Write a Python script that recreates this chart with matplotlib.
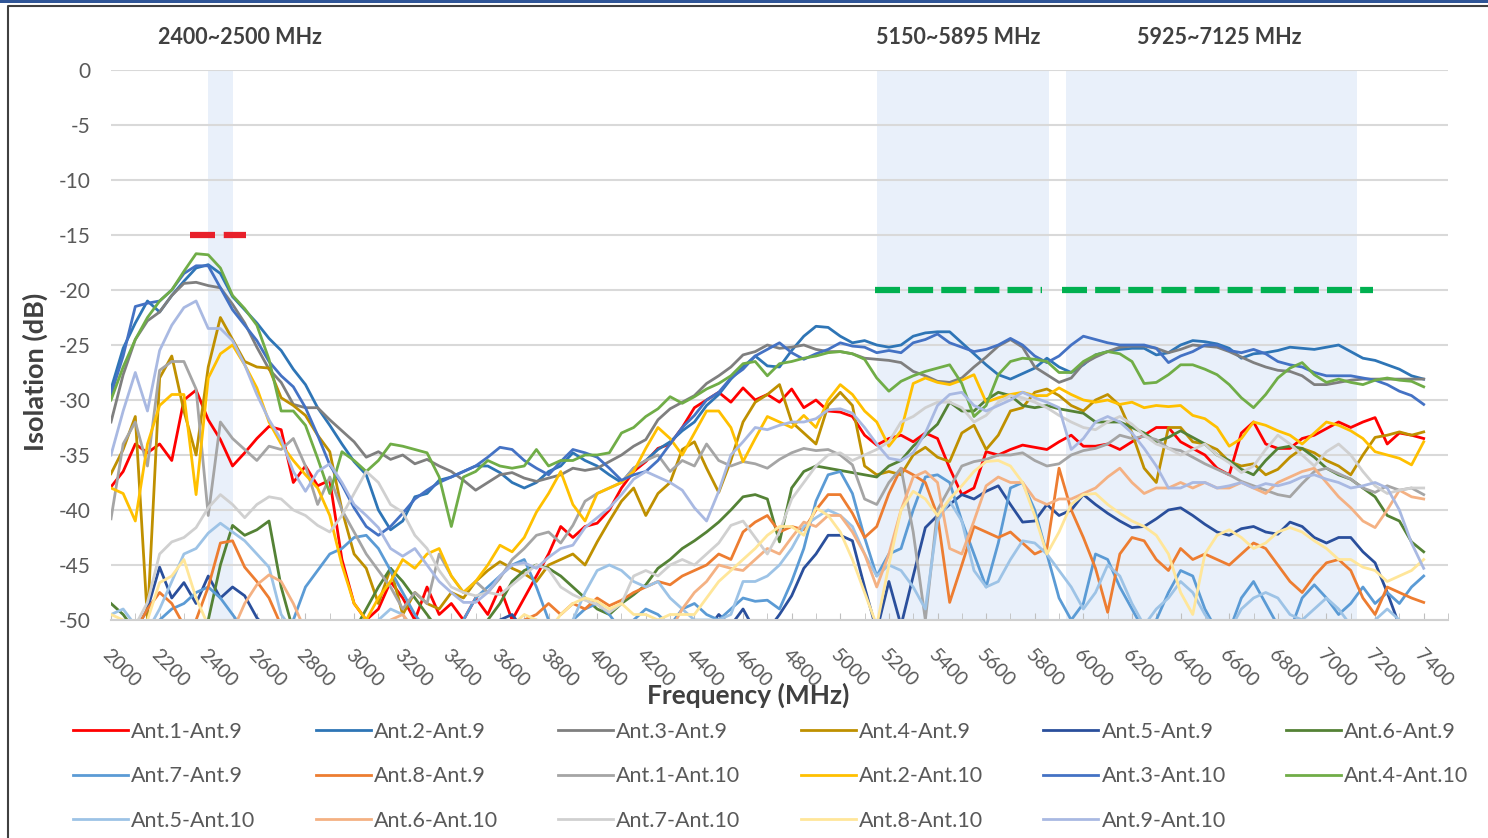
import numpy as np
import matplotlib.pyplot as plt
from matplotlib.lines import Line2D
from matplotlib.patches import Rectangle

plt.rcParams['font.family'] = ['Lato', 'DejaVu Sans']
plt.rcParams['axes.unicode_minus'] = False

# frequency grid (MHz), 50 MHz steps
freq = np.arange(2000, 7401, 50)

# isolation values (dB)
ant1_9 = [-37.9, -36.5, -34, -34.8, -34, -35.5, -30, -29.1, -31.8, -33.6,
          -36, -34.8, -33.5, -32.4, -32.7, -37.5, -36, -37.8, -37.3, -44.5,
          -48.5, -50, -49, -46.5, -48, -50, -47, -49.5, -48.5, -50,
          -48, -49.5, -47, -50, -48, -46, -44, -41.5, -42.5, -41.5,
          -41.2, -40, -38, -36.5, -35.6, -34.4, -34, -32.5, -30.7, -30,
          -29.3, -30.2, -28.9, -30, -29.5, -30.2, -29, -30.7, -30, -31,
          -31.1, -31.5, -33.2, -34.1, -33.5, -33.2, -33.8, -33, -33.5, -36.2,
          -38.6, -38, -34.7, -35, -34.5, -34.1, -34.3, -34.5, -33.8, -33.2,
          -34.2, -34.2, -34, -34.5, -33.8, -33.2, -32.5, -32.5, -33.8, -34.4,
          -35, -36.2, -36.8, -33, -32, -34, -34.4, -34.4, -33.5, -33.2,
          -32.6, -32, -32.5, -32, -31.6, -34, -33, -33.2, -33.5]
ant2_9 = [-29, -25.3, -23, -21, -22, -20.5, -19.2, -18, -17.7, -18.5,
          -20.6, -21.8, -23, -24.4, -25.5, -27.2, -28.6, -30.7, -32.3, -34,
          -35.6, -36.8, -40, -41.8, -41, -38.8, -38.5, -37.3, -37, -36.5,
          -36, -36, -36.6, -37.5, -38, -37.5, -36.5, -36, -34.8, -35.5,
          -36, -36.8, -37.5, -36.2, -35.5, -34.5, -33.8, -32.8, -32, -30.5,
          -29.5, -28.1, -27, -26, -26.9, -27, -25.5, -24.2, -23.3, -23.4,
          -24.2, -24.8, -24.6, -25, -25.2, -25, -24.2, -23.9, -23.8, -23.8,
          -24.8, -25.8, -26.8, -27.7, -28.1, -27.6, -27.1, -26.2, -27, -27.5,
          -26.8, -25.9, -25.6, -25.4, -25.3, -25.3, -25.9, -25.7, -25, -24.6,
          -24.7, -24.9, -25.3, -26.2, -25.8, -25.7, -25.5, -25.2, -25.3, -25.4,
          -25.2, -25, -25.6, -26.2, -26.4, -26.8, -27.2, -27.8, -28.1]
ant3_9 = [-32, -27.7, -24.5, -22.8, -22, -20.5, -19.4, -19.3, -19.6, -19.8,
          -21.3, -23, -25.2, -27.2, -28.4, -30.4, -30.7, -30.7, -31.8, -32.8,
          -33.8, -35.2, -34.7, -35.4, -35, -35.8, -35.4, -36, -36.5, -37.3,
          -38.2, -37.5, -36.8, -36.6, -37.1, -37.4, -37.1, -36.8, -36.2, -36.4,
          -36.2, -35.6, -35, -34.2, -33.6, -31.8, -30.8, -30.2, -29.6, -28.5,
          -27.8, -27, -25.9, -25.6, -25, -25.3, -25.2, -25, -25.4, -25.6,
          -25.6, -25.8, -26.2, -26.3, -26.4, -26.6, -27.4, -27.8, -28.3, -28.4,
          -28, -27, -26.1, -25.1, -24.5, -25.2, -27, -27.7, -28.4, -28,
          -26.7, -26.1, -25.6, -25.2, -25.1, -25.1, -25.3, -25.7, -25.4, -25,
          -25.1, -25.2, -25.6, -26.1, -26.6, -27, -27.3, -27.4, -27.8, -28.6,
          -28.6, -28.4, -28.2, -28.1, -28.1, -28.1, -28.1, -28.1, -28.1]
ant4_9 = [-36.7, -34.5, -31.5, -50, -28, -26, -31, -35, -27, -22.5,
          -24.5, -26.5, -27, -27.1, -29.8, -30.5, -31.4, -33.2, -34.7, -40,
          -44, -45.3, -48.5, -45.3, -49.5, -47.5, -48.5, -49, -47.5, -48,
          -46.5, -45.5, -44.7, -45.3, -45.8, -46.5, -45, -44.5, -44, -45,
          -42.9, -41, -39.2, -38, -40.5, -38.5, -37.5, -34.5, -33.8, -36.2,
          -38.4, -35.5, -32, -30.2, -29.5, -28.6, -32, -33, -34, -30.5,
          -29.3, -30.5, -36, -36.8, -36.5, -36.8, -35, -34.3, -35.2, -35.6,
          -33, -32.3, -34.5, -33.2, -31, -30.7, -29.3, -29, -29.6, -30.5,
          -31, -30, -29.5, -30.5, -33, -36.2, -37.5, -32.5, -32.5, -33.8,
          -34, -34.5, -35.6, -36, -35.8, -36.8, -36.3, -35.2, -34.4, -34.8,
          -35.5, -36, -36.8, -35, -33.4, -33.2, -32.9, -33.2, -32.9]
ant5_9 = [-51, -51, -51, -49, -45.2, -48, -46.6, -48.5, -46, -48,
          -47, -47.8, -49.8, -51, -51, -51, -51, -51, -51, -51,
          -51, -51, -51, -51, -51, -51, -51, -51, -51, -51,
          -51, -51, -50, -49.5, -51, -51, -51, -51, -51, -51,
          -51, -51, -51, -51, -51, -51, -51, -51, -51, -51,
          -49.5, -50.5, -49, -51, -51, -49.5, -47.8, -45.3, -44, -42.3,
          -42.3, -42.8, -47, -51, -46.5, -50.5, -46, -41.6, -40.5, -39.5,
          -38.6, -39, -38.3, -37.8, -39.5, -41.1, -41, -39.5, -40.5, -40,
          -38.6, -39.5, -40.3, -41, -41.6, -41.5, -40.8, -40, -39.8, -40.5,
          -41.3, -42, -42.3, -41.7, -41.5, -42, -42.2, -41.1, -41.5, -42.5,
          -43, -42.5, -42.5, -43.8, -44.8, -47.5, -50.5, -51, -51]
ant6_9 = [-48.5, -49.5, -51, -51, -51, -51, -51, -51, -50, -45,
          -41.4, -42.3, -41.8, -41, -47, -51, -51, -51, -51, -51,
          -51, -49, -47, -45.3, -46.5, -48, -49.5, -51, -51, -51,
          -51, -50, -48.5, -46.5, -45.5, -45, -45.3, -46, -47, -48,
          -49, -49.5, -48.5, -47.7, -46.8, -45.3, -44.5, -43.5, -42.8, -42,
          -41.1, -40, -38.8, -38.6, -39, -42.9, -38, -36.5, -36, -36.2,
          -36.4, -36.6, -36.8, -37, -36, -35.5, -34.2, -33.2, -32.2, -30.2,
          -31, -31, -30, -29.3, -29.6, -30.5, -30.7, -30.5, -30.8, -31,
          -31.2, -32, -32, -32, -32.5, -33, -33.8, -33.4, -32.8, -33.4,
          -34, -35, -35.5, -36.3, -36.8, -35.5, -34.4, -34.2, -34.4, -35.2,
          -36.2, -36.8, -37.2, -38, -38.8, -40.5, -41, -42.9, -43.8]
ant7_9 = [-51, -51, -51, -51, -50, -49, -48.5, -47.5, -47, -48,
          -49.5, -51, -51, -51, -51, -50, -47, -45.5, -44, -43.5,
          -42.5, -42.3, -43.5, -45.5, -47.5, -49.5, -51, -51, -51, -50,
          -48, -47, -46, -45, -44.5, -47, -50, -51, -50, -49,
          -48.5, -49.5, -51, -50, -49, -49.5, -50.5, -49, -48.5, -49.5,
          -50, -49, -48, -48.3, -48.2, -49, -46.5, -43.5, -39.2, -36.8,
          -36.5, -38.5, -42.5, -46, -44, -43.5, -40, -37, -36.8, -37.5,
          -41, -44, -47, -43, -38, -37.5, -40, -44, -48, -50,
          -48.5, -44, -44.5, -47, -49, -51, -50, -47.5, -45.5, -46,
          -49, -51, -51, -48, -46.5, -48.5, -50.5, -51, -48, -46.8,
          -48, -49.5, -48.5, -47, -48.5, -47.5, -48.5, -47, -46]
ant8_9 = [-51, -51, -51, -49, -47.5, -48.5, -50.5, -50, -47, -43,
          -42.8, -45.2, -46.5, -48, -50.5, -51, -51, -51, -51, -51,
          -51, -51, -51, -51, -51, -51, -51, -51, -51, -51,
          -51, -51, -51, -51, -50, -49.5, -48.5, -49.5, -48.5, -49,
          -48, -48.7, -48.2, -47.5, -47, -46.5, -46.8, -46, -45.5, -45,
          -44, -44.5, -42, -41.1, -40.5, -42, -41.5, -41.8, -40, -38.6,
          -38.6, -40.3, -42.5, -41.5, -38.5, -36.2, -36.8, -37.5, -40.5, -48.4,
          -45, -41.5, -42, -42.5, -42, -43, -44, -43.5, -36.2, -40,
          -42.5, -45.3, -49.3, -44, -42.5, -42.8, -44.5, -45.5, -43.5, -44.5,
          -44, -44.5, -45, -44, -43, -43.5, -45, -46.5, -47.5, -46,
          -44.8, -44.5, -45.5, -48, -49.5, -47, -47.5, -48, -48.4]
ant1_10 = [-40.8, -34, -32, -36, -27.3, -26.5, -26.5, -29, -40.5, -32,
           -33.5, -34.5, -35.5, -34.2, -34.5, -33.5, -36, -39.5, -37, -40,
           -42, -44, -45.5, -47, -49, -47.5, -48.5, -44, -46, -47.5,
           -46.5, -47.5, -46.2, -44.5, -43.5, -42.3, -42, -43, -41.4, -39.2,
           -38.5, -38, -37.5, -36.2, -35.5, -35, -36.5, -35.5, -36, -34,
           -35.5, -36, -35.6, -35.8, -36.2, -35.4, -34.8, -34.4, -34.6, -34.5,
           -35, -35.9, -39, -39.5, -37.5, -36.2, -42, -50, -40, -38,
           -36, -35.6, -35.4, -35, -35, -34.8, -35.5, -36, -35.8, -35,
           -34.6, -34.4, -34, -33.2, -33.5, -33.3, -33.6, -34.4, -34.6, -35.2,
           -35.8, -36.3, -36.8, -37.4, -37.8, -38.2, -38.6, -38.8, -37.6, -36.5,
           -36.2, -36.7, -37.2, -38, -38.4, -37.8, -38.2, -38, -38.6]
ant2_10 = [-38, -38.5, -41, -34, -30.5, -29.5, -29.5, -38.6, -28, -25.8,
           -25, -26.8, -28.9, -32, -34, -35.5, -36.8, -38, -40.5, -45,
           -48.5, -50, -48, -46.5, -44.5, -45.3, -44, -43.5, -46, -47.5,
           -46.5, -45, -43.2, -43.8, -42.5, -40.2, -38.5, -36.5, -39.5, -41,
           -38.5, -38, -37.5, -36.5, -34.4, -32.5, -33.5, -35, -33, -31,
           -31, -32.5, -35.6, -33.5, -31.5, -32, -32.5, -31.4, -32.5, -30,
           -28.6, -29.5, -31, -32, -34.2, -32.8, -28.5, -28, -28.4, -28.6,
           -28.2, -27.7, -30.2, -29.8, -29.5, -29.3, -29.6, -29.6, -28.9, -29.5,
           -30, -30.2, -30, -30.4, -30.2, -30.7, -30.5, -30.6, -30.5, -31.4,
           -31.7, -32.5, -34.2, -33.5, -32, -32.3, -32.8, -33.2, -34, -33,
           -32, -32.3, -32.8, -33.5, -34.7, -35, -35.3, -35.9, -33.8]
ant3_10 = [-29.5, -26, -21.5, -21.2, -21, -20, -18.5, -17.8, -17.8, -19.8,
           -21.8, -23.2, -24.6, -26.5, -27.8, -28.8, -30.7, -33.2, -35.9, -37.7,
           -39.8, -41.5, -42.3, -41.5, -40.3, -39, -38.2, -37.5, -37, -36.5,
           -36, -35.2, -34.3, -34.5, -35.5, -36.2, -36.8, -35.6, -34.5, -34.8,
           -35.2, -36.2, -37.3, -36.8, -36.5, -35.5, -34, -32.5, -31.4, -30,
           -29.3, -28, -27.2, -26, -25.4, -24.8, -25.7, -26.3, -25.8, -25.4,
           -24.8, -25.1, -25.2, -25.7, -25.5, -25.7, -24.8, -24.5, -24, -24.8,
           -25.2, -25.6, -25.4, -25, -24.4, -25, -26, -26.6, -26, -25,
           -24.2, -24.5, -24.8, -25, -25, -25, -25.3, -26.6, -26, -25.6,
           -25, -25, -25.5, -25.7, -25.4, -25.8, -26.5, -26.8, -27, -27.5,
           -27.8, -27.8, -27.8, -28, -28.2, -28.6, -29.2, -29.6, -30.4]
ant4_10 = [-30, -27, -24.5, -22.5, -21, -20, -18.3, -16.7, -16.8, -18,
           -20.5, -21.7, -23.2, -26.3, -31, -31, -32.3, -35.3, -38.5, -34.7,
           -35.5, -36.5, -35.5, -34, -34.2, -34.5, -34.8, -37, -41.5, -37,
           -36.5, -35.5, -36, -36.2, -36, -34.5, -36, -35.5, -35.5, -35,
           -35, -34.8, -33, -32.5, -31.5, -30.8, -29.7, -30.3, -29.7, -29,
           -28.5, -27.8, -26.7, -26.5, -27.8, -26.7, -26.5, -26.2, -26, -25.7,
           -25.6, -25.8, -26.3, -28, -29.2, -28.3, -27.8, -27.4, -27.1, -26.8,
           -28.5, -31.5, -30.5, -27.7, -26.5, -26.2, -26.3, -26.5, -27.5, -27.5,
           -26.5, -25.9, -25.6, -25.8, -26.5, -28.5, -28.4, -27.7, -26.8, -26.8,
           -27.2, -27.7, -28.6, -29.8, -30.7, -29.5, -28, -27.1, -26.6, -27.7,
           -28.4, -28.1, -28.4, -28.6, -28.2, -28, -28.2, -28.3, -28.8]
ant5_10 = [-49.5, -49, -50.5, -51, -49, -46.5, -44, -43.5, -42.1, -41.2,
           -42, -42.8, -44, -45.2, -49.5, -51, -51, -51, -51, -51,
           -51, -51, -50, -49, -49.5, -51, -51, -51, -51, -51,
           -51, -51, -51, -51, -50.5, -50, -51, -51, -50, -47.5,
           -45.5, -45, -45.5, -46.5, -47, -46.5, -48, -49, -50, -50,
           -50, -49.5, -46.5, -46.5, -46, -45, -43.5, -41.5, -40.7, -40,
           -40.5, -41.5, -44, -46, -45, -45.5, -47, -49, -41, -39.2,
           -41, -45.5, -47, -46.5, -44.5, -42.8, -43, -44, -45.5, -47,
           -49, -47.5, -45, -46, -48.5, -50.5, -49, -48, -46.5, -47.5,
           -49.5, -51, -51, -49, -48, -47.5, -48, -49.5, -50, -49,
           -48, -49, -50.5, -51, -50, -49, -50, -50.5, -51]
ant6_10 = [-51, -51, -51, -51, -51, -51, -51, -51, -51, -51,
           -51, -48.5, -46.8, -45.9, -46.5, -48.5, -51, -51, -51, -51,
           -51, -51, -51, -50, -49.5, -51, -51, -51, -51, -51,
           -51, -51, -51, -51, -51, -51, -51, -51, -51, -51,
           -51, -51, -51, -51, -51, -51, -51, -49, -47.5, -46.5,
           -45, -45.3, -45.5, -44.5, -43.5, -44, -42.5, -41.1, -41.5, -40.5,
           -40.5, -42, -44, -47, -44, -40, -37, -36.5, -37.5, -43.5,
           -44, -41, -37.8, -37, -37.5, -37.5, -39, -39.5, -39, -39,
           -38.5, -38, -37, -36.2, -37.5, -38.5, -38, -38, -37.5, -38,
           -37.5, -38, -38, -37.5, -38, -38.5, -37.5, -37, -36.5, -36.2,
           -37.5, -38.8, -39.8, -41, -41.6, -40, -38.2, -38.8, -39]
ant7_10 = [-51, -51, -50.5, -48.4, -44, -42.9, -42.5, -41.6, -39.8, -38.6,
           -39.5, -40.7, -39.5, -38.8, -39, -40, -40.5, -41.4, -42, -40.5,
           -38.5, -36.5, -37.5, -39.5, -40.2, -42.3, -43.5, -45.5, -47, -47.5,
           -47.8, -47.5, -47.7, -46.8, -45.9, -45, -45.4, -47, -47.7, -48.2,
           -48.6, -49.3, -48.5, -46, -45.5, -46, -45, -44.5, -45, -44,
           -43, -41.4, -41, -42.5, -44, -42, -39, -37.5, -36, -35,
           -34.8, -35.5, -35, -34.5, -33.8, -32, -31.5, -30.7, -30.2, -30.2,
           -30.7, -32, -31.4, -30.2, -29.6, -29.8, -30.2, -30.7, -31.4, -32,
           -32.5, -32.7, -32, -31.5, -32.2, -33.2, -34, -34.4, -35, -34.5,
           -34, -35, -35.7, -36.6, -36, -34.5, -33.2, -34, -35, -36,
           -34.7, -34, -35, -36.5, -37.8, -38.5, -38.2, -38, -38]
ant8_10 = [-49.5, -50, -51, -50, -46.6, -46, -44.5, -48, -50.5, -51,
           -51, -51, -51, -51, -51, -51, -51, -51, -51, -51,
           -51, -51, -51, -51, -51, -51, -51, -51, -51, -51,
           -51, -51, -51, -50.5, -49.5, -50, -51, -49.5, -48.5, -48,
           -48.3, -49, -48.5, -49.5, -49.5, -50, -49.5, -49.5, -49.5, -48,
           -46.5, -45.5, -44.5, -43.5, -42.3, -41.5, -41.5, -42.3, -39.8, -40.5,
           -42, -44.5, -47.5, -50.5, -45, -40, -38.3, -39, -40.5, -39,
           -37.8, -36.5, -35.6, -35.5, -36, -37.5, -40.5, -44, -42, -39.5,
           -38.6, -38.5, -39.5, -40.3, -41, -41.5, -42.3, -44, -47.5, -49.5,
           -44, -42.3, -41.8, -42.5, -43.5, -43, -42, -41.6, -42, -42.8,
           -43.5, -44.5, -44.5, -45.2, -45.5, -46.5, -46, -45.5, -44.5]
ant9_10 = [-35, -31, -27.5, -31, -25.5, -23.2, -21.6, -21, -23.5, -23.5,
           -24.6, -26.8, -29.5, -31.8, -33.6, -36.5, -38.3, -36.5, -35.8, -37.5,
           -39.5, -40.5, -41.6, -43.5, -44.2, -43.5, -45, -46.5, -47.5, -48.4,
           -48.4, -47.5, -46, -45, -44.8, -45.3, -44.3, -43.5, -43.2, -41.6,
           -40.7, -39.8, -38.6, -37.2, -36.5, -37, -37.5, -38.2, -39.8, -41,
           -38.3, -35, -33.8, -32.5, -32.7, -32.3, -32, -32, -31.7, -30.9,
           -30.8, -31.2, -32.5, -34, -35.3, -35.5, -34.8, -33, -30.5, -29.5,
           -29.3, -30.5, -31, -30.5, -30, -29.3, -29.8, -30.2, -30.7, -34.5,
           -33.5, -32, -31.5, -32, -33, -34.4, -36, -38, -38, -37.5,
           -37.5, -38, -37.8, -37.5, -38, -37.6, -37.8, -37.5, -37, -36.8,
           -37.2, -37.5, -38, -37.8, -37.5, -38, -40, -43, -45.3]

labels = ['Ant.1-Ant.9', 'Ant.2-Ant.9', 'Ant.3-Ant.9', 'Ant.4-Ant.9', 'Ant.5-Ant.9',
          'Ant.6-Ant.9', 'Ant.7-Ant.9', 'Ant.8-Ant.9', 'Ant.1-Ant.10', 'Ant.2-Ant.10',
          'Ant.3-Ant.10', 'Ant.4-Ant.10', 'Ant.5-Ant.10', 'Ant.6-Ant.10', 'Ant.7-Ant.10',
          'Ant.8-Ant.10', 'Ant.9-Ant.10']
series = [ant1_9, ant2_9, ant3_9, ant4_9, ant5_9, ant6_9, ant7_9, ant8_9,
          ant1_10, ant2_10, ant3_10, ant4_10, ant5_10, ant6_10, ant7_10, ant8_10, ant9_10]
colors = ['#FF0000', '#2E75B6', '#7F7F7F', '#BF9000', '#2A4F9C', '#548235',
          '#5B9BD5', '#ED7D31', '#A5A5A5', '#FFC000', '#4472C4', '#70AD47',
          '#9DC3E6', '#F4B183', '#D0D0D0', '#FFE699', '#A9B9E2']

bands = [(2400, 2500), (5150, 5860), (5930, 7125)]
band_labels = [(2530, '2400~2500 MHz'), (5485, '5150~5895 MHz'), (6560, '5925~7125 MHz')]

for s in series:
    assert len(s) == len(freq)

W, H = 1488, 838
fig = plt.figure(figsize=(W / 100, H / 100), dpi=100)
ax = fig.add_axes([111 / W, 1 - 620 / H, (1448 - 111) / W, 550 / H])

for b0, b1 in bands:
    ax.axvspan(b0, b1, color='#E9F0FA', zorder=0, lw=0)

lines = []
for s, lab, col in zip(series, labels, colors):
    ln, = ax.plot(freq, s, color=col, lw=2.0, label=lab, zorder=2)
    lines.append(ln)

# limit lines
ax.plot([2325, 2555], [-15, -15], color='#E8202A', lw=4.5, ls=(0, (4, 1.4)),
        solid_capstyle='butt', dash_capstyle='butt', zorder=3)
ax.plot([5143, 5830], [-20, -20], color='#00B050', lw=4.5, ls=(0, (4, 1.3)),
        dash_capstyle='butt', zorder=3)
ax.plot([5912, 7190], [-20, -20], color='#00B050', lw=4.5, ls=(0, (4, 1.3)),
        dash_capstyle='butt', zorder=3)

ax.set_xlim(2000, 7500)
ax.set_ylim(-50, 0)
ax.set_yticks(range(-50, 1, 5))
ax.yaxis.grid(True, color='#D9D9D9', lw=1.5)
ax.set_axisbelow(True)
for sp in ['top', 'right', 'left']:
    ax.spines[sp].set_visible(False)
ax.spines['bottom'].set_color('#D0D0D0')
ax.spines['bottom'].set_linewidth(1.5)

ax.set_xticks(range(2000, 7401, 200))
ax.set_xticks(range(2000, 7501, 100), minor=True)
ax.tick_params(axis='x', which='both', direction='in', length=5, color='#BFBFBF',
               labelsize=14, labelcolor='#595959', pad=19)
ax.tick_params(axis='y', length=0, labelsize=15, labelcolor='#595959', pad=15)
for lbl in ax.get_xticklabels():
    lbl.set_rotation(-45)
    lbl.set_ha('left')
    lbl.set_va('top')
    lbl.set_rotation_mode('anchor')

trans = ax.get_xaxis_transform()
for x, txt in band_labels:
    ax.text(x, 1.06, txt, transform=trans, ha='center', va='center',
            fontsize=15.5, fontweight='bold', color='#404040')

fig.text(35 / W, 1 - 372 / H, 'Isolation (dB)', rotation=90, ha='center', va='center',
         fontsize=19.5, fontweight='bold', color='#404040')
fig.text(748 / W, 1 - 695 / H, 'Frequency (MHz)', ha='center', va='center',
         fontsize=19, fontweight='bold', color='#404040')

# legend filled row by row (matplotlib fills column-wise)
ncol = 6
order = []
for c in range(ncol):
    order += list(range(c, len(lines), ncol))
fig.legend([lines[i] for i in order], [labels[i] for i in order], ncol=ncol,
           loc='upper left', bbox_to_anchor=(73 / W, 1 - 722 / H), frameon=False,
           fontsize=15.5, labelcolor='#595959', handlelength=2.55, handletextpad=0.15,
           columnspacing=2.8, labelspacing=1.13, borderpad=0, borderaxespad=0)

# outer frame of the original screenshot
fig.add_artist(Rectangle((0, 1 - 3 / H), 1, 3 / H, transform=fig.transFigure,
                         color='#2F5597', lw=0))
fig.add_artist(Line2D([8 / W, 8 / W, 1], [0, 1 - 6 / H, 1 - 6 / H], transform=fig.transFigure,
                      color='#404040', lw=1.5))

fig.savefig('out.png', dpi=100)
